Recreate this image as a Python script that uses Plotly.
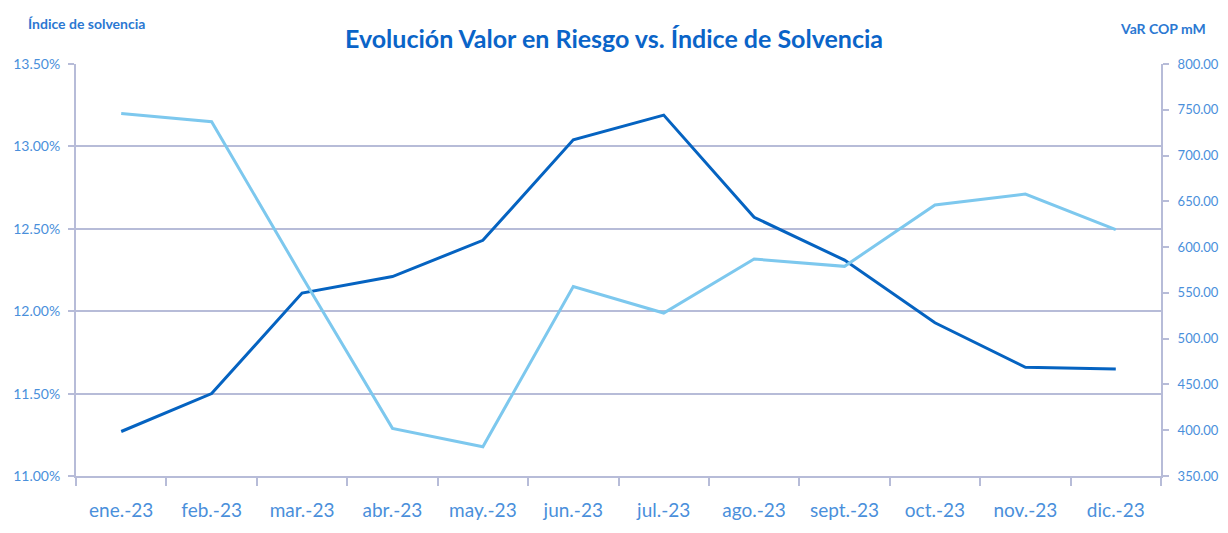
import plotly.graph_objects as go

months = ["ene.-23", "feb.-23", "mar.-23", "abr.-23", "may.-23", "jun.-23",
          "jul.-23", "ago.-23", "sept.-23", "oct.-23", "nov.-23", "dic.-23"]
indice_solvencia = [11.27, 11.50, 12.11, 12.21, 12.43, 13.04,
                    13.19, 12.57, 12.31, 11.93, 11.66, 11.65]
var_cop_mm = [746, 737, 568, 402, 382, 557, 528, 587, 579, 646, 658, 619]

left_ticks = [11.0, 11.5, 12.0, 12.5, 13.0, 13.5]
left_labels = ["11.00%", "11.50%", "12.00%", "12.50%", "13.00%", "13.50%"]
right_ticks = [350, 400, 450, 500, 550, 600, 650, 700, 750, 800]
right_labels = ["%.2f" % v for v in right_ticks]

FONT = "Lato"
AXIS_COL = "#B7BCD8"
TICK_COL = "#4A8FDB"

fig = go.Figure()
fig.add_trace(go.Scatter(x=months, y=indice_solvencia, mode="lines",
                         line=dict(color="#0563C1", width=3),
                         name="Índice de solvencia", yaxis="y"))
fig.add_trace(go.Scatter(x=months, y=var_cop_mm, mode="lines",
                         line=dict(color="#7DC8EE", width=3),
                         name="VaR COP mM", yaxis="y2"))

W, H = 1212, 517
fig.update_layout(
    width=W, height=H,
    margin=dict(l=68, r=59, t=56, b=49, autoexpand=False),
    paper_bgcolor="white", plot_bgcolor="white",
    showlegend=False,
    font=dict(family=FONT, color=TICK_COL),
    title=dict(text="<b>Evolución Valor en Riesgo vs. Índice de Solvencia</b>",
               x=606 / W, xanchor="center", y=1 - 31 / H, yanchor="middle",
               font=dict(family=FONT, size=25, color="#0A64C8")),
    xaxis=dict(type="category", tickson="boundaries", ticks="outside",
               ticklen=8, tickcolor=AXIS_COL, tickwidth=2,
               showgrid=False, showline=True, linecolor=AXIS_COL, linewidth=2,
               tickfont=dict(family=FONT, size=19, color=TICK_COL),
               ticklabelstandoff=16, range=[-0.5, 11.5]),
    yaxis=dict(range=[11.0, 13.5], tickvals=left_ticks, ticktext=left_labels,
               ticks="outside", ticklen=6, tickcolor=AXIS_COL, tickwidth=2,
               showgrid=True, gridcolor=AXIS_COL, gridwidth=2,
               showline=True, linecolor=AXIS_COL, linewidth=2,
               zeroline=False,
               tickfont=dict(family=FONT, size=14, color=TICK_COL),
               ticklabelstandoff=5),
    yaxis2=dict(range=[350, 800], tickvals=right_ticks, ticktext=right_labels,
                overlaying="y", side="right",
                ticks="outside", ticklen=6, tickcolor=AXIS_COL, tickwidth=2,
                showgrid=False, showline=True, linecolor=AXIS_COL, linewidth=2,
                zeroline=False,
                tickfont=dict(family=FONT, size=13, color=TICK_COL),
                ticklabelstandoff=6),
)

fig.add_annotation(text="<b>Índice de solvencia</b>", xref="paper", yref="paper",
                   x=-50 / 1085, y=1.0, yshift=41, xanchor="left", yanchor="middle",
                   showarrow=False, font=dict(family=FONT, size=14, color="#2B78D2"))
fig.add_annotation(text="<b>VaR COP mM</b>", xref="paper", yref="paper",
                   x=1132 / 1085, y=1.0, yshift=36, xanchor="right", yanchor="middle",
                   showarrow=False, font=dict(family=FONT, size=14, color="#2B78D2"))

fig.write_html("out.html")
